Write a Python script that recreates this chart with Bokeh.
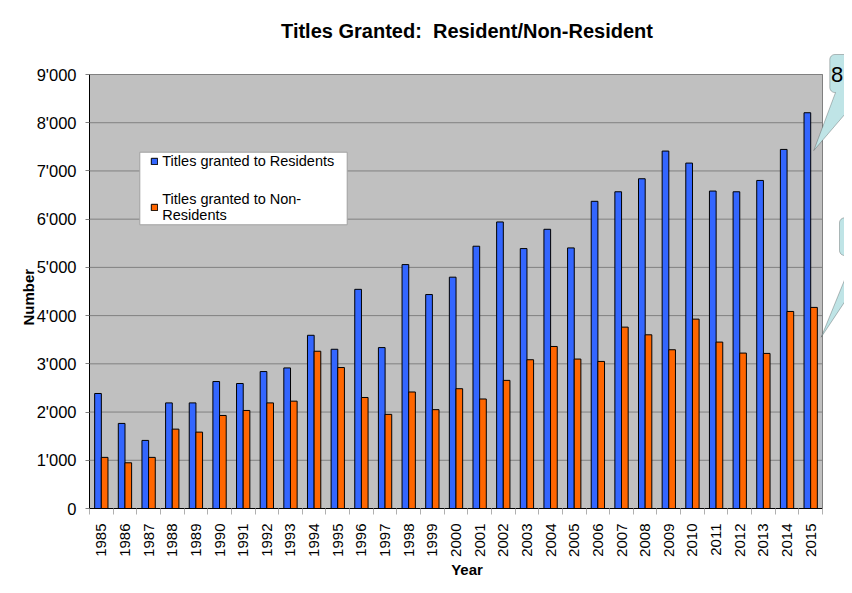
import numpy as np
from bokeh.plotting import figure
from bokeh.models import (Range1d, FixedTicker, Legend, LegendItem,
                          PolyAnnotation, Label, Title)
from bokeh.embed import file_html
from bokeh.resources import INLINE

# ---------------- data ----------------
years = [1985, 1986, 1987, 1988, 1989, 1990, 1991, 1992, 1993, 1994,
         1995, 1996, 1997, 1998, 1999, 2000, 2001, 2002, 2003, 2004,
         2005, 2006, 2007, 2008, 2009, 2010, 2011, 2012, 2013, 2014, 2015]
residents = [2385, 1764, 1412, 2190, 2190, 2633, 2592, 2840, 2915, 3592,
             3302, 4545, 3337, 5058, 4437, 4797, 5439, 5942, 5390, 5790,
             5404, 6370, 6568, 6838, 7412, 7163, 6583, 6568, 6803, 7446, 8207]
non_residents = [1060, 948, 1060, 1646, 1584, 1929, 2033, 2190, 2226, 3261,
                 2923, 2302, 1952, 2416, 2050, 2484, 2271, 2657, 3085, 3360,
                 3099, 3050, 3761, 3602, 3292, 3927, 3451, 3223, 3216, 4086, 4170]
y_ticks = [0, 1000, 2000, 3000, 4000, 5000, 6000, 7000, 8000, 9000]
y_tick_labels = ["0", "1'000", "2'000", "3'000", "4'000", "5'000",
                 "6'000", "7'000", "8'000", "9'000"]
series_labels = ["Titles granted to Residents", "Titles granted to Non-\nResidents"]
title_text = "Titles Granted:\u00a0 Resident/Non-Resident"
y_label = "Number"
x_label = "Year"
callout_text = "8"

FONT = "Liberation Sans"
W, H = 844, 585
# plot-area (grey box) in canvas pixels
PL, PR, PT, PB = 89, 822, 74, 508
# frame extended to the right and upwards so the callouts can be drawn
FT = 50
n = len(years)
y_max = y_ticks[-1]
ppx = (PR - PL) / n          # pixels per category
ppy = (PB - PT) / y_max      # pixels per unit

x_end = -0.5 + (W - PL) / ppx
y_end = (PB - FT) / ppy

p = figure(width=W, height=H, x_range=Range1d(-0.5, x_end), y_range=Range1d(0, y_end),
           output_backend="svg", toolbar_location=None,
           min_border_left=PL, min_border_right=0, min_border_top=FT,
           min_border_bottom=H - PB,
           background_fill_color="white", border_fill_color="white")
p.outline_line_color = None

def fx2d(fx):
    return (fx - PL) / ppx - 0.5

def fy2d(fy):
    return (PB - fy) / ppy

# grey plot area with outline
p.quad(left=-0.5, right=n - 0.5, bottom=0, top=y_max,
       fill_color="#c0c0c0", line_color="#808080", line_width=1)
# horizontal grid lines
p.segment(x0=[-0.5] * len(y_ticks), x1=[n - 0.5] * len(y_ticks),
          y0=y_ticks, y1=y_ticks, line_color="#808080", line_width=1)

idx = np.arange(n)
bw = 0.283
r1 = p.vbar(x=idx - 0.14, top=residents, width=bw, fill_color="#3366ff",
            line_color="black", line_width=1)
r2 = p.vbar(x=idx + 0.14, top=non_residents, width=bw, fill_color="#ff6600",
            line_color="black", line_width=1)

# legend box
p.quad(left=fx2d(139.3), right=fx2d(346.7), top=fy2d(151.7), bottom=fy2d(224.3),
       fill_color="white", line_color="#a0a0a0", line_width=1)

# title
p.title.text = title_text
p.title.text_font = FONT
p.title.text_font_size = "20px"
p.title.text_font_style = "bold"
p.title.text_color = "black"
p.title.align = "center"
p.title.offset = 1
p.title.standoff = 17

p.xgrid.grid_line_color = None
p.ygrid.grid_line_color = None

# y axis
ya = p.yaxis[0]
ya.ticker = FixedTicker(ticks=y_ticks)
ya.bounds = (0, y_max)
ya.major_label_overrides = {v: s for v, s in zip(y_ticks, y_tick_labels)}
ya.major_label_text_font = FONT
ya.major_label_text_font_size = "16.5px"
ya.major_label_text_color = "black"
ya.major_label_standoff = 9
ya.major_tick_out = 4
ya.major_tick_in = 0
ya.major_tick_line_color = "#808080"
ya.minor_tick_line_color = None
ya.axis_line_color = "black"

# y axis title
ytitle = Title(text=y_label, align="left", offset=183, standoff=-6,
               text_font=FONT, text_font_size="15px", text_font_style="bold",
               text_color="black")
p.add_layout(ytitle, "left")

# x axis
xa = p.xaxis[0]
xa.ticker = FixedTicker(ticks=list(idx), minor_ticks=list(np.arange(n + 1) - 0.5))
xa.bounds = (-0.5, n - 0.5)
xa.major_label_overrides = {int(i): str(y) for i, y in zip(idx, years)}
xa.major_label_orientation = np.pi / 2
xa.major_label_text_font = FONT
xa.major_label_text_font_size = "15px"
xa.major_label_text_color = "black"
xa.major_tick_out = 0
xa.major_tick_in = 0
xa.minor_tick_out = 6
xa.minor_tick_in = 0
xa.minor_tick_line_color = "#b0b0b0"
xa.major_label_standoff = 9
xa.axis_line_color = "black"
xa.axis_label = x_label
xa.axis_label_text_font = FONT
xa.axis_label_text_font_size = "15px"
xa.axis_label_text_font_style = "bold"
xa.axis_label_text_color = "black"
xa.axis_label_standoff = 1

# legend (box drawn above as a quad)
legend = Legend(items=[LegendItem(label=series_labels[0], renderers=[r1]),
                       LegendItem(label=series_labels[1], renderers=[r2])],
                location=(150.3 - PL, 285), orientation="vertical",
                border_line_color=None, background_fill_alpha=0,
                padding=0, spacing=22, margin=0,
                glyph_width=8, glyph_height=8, label_standoff=4,
                label_height=8, label_text_font=FONT, label_text_color="black",
                label_text_font_size="14.5px", label_text_line_height=1.15)
p.add_layout(legend)

# callouts
def callout(L, T, B, R, tbl, tbr, tip, r=5):
    pts = [(L, B - r)]
    for a in np.linspace(np.pi, 1.5 * np.pi, 7):
        pts.append((L + r + r * np.cos(a), T + r + r * np.sin(a)))
    pts += [(R, T), (R, B), (tbr, B), tip, (tbl, B)]
    for a in np.linspace(0.5 * np.pi, np.pi, 7):
        pts.append((L + r + r * np.cos(a), B - r + r * np.sin(a)))
    xs = [fx2d(x) for x, _ in pts]
    ys = [fy2d(y) for _, y in pts]
    return PolyAnnotation(xs=xs, ys=ys, fill_color="#bfe4e6", fill_alpha=1,
                          line_color="#303030", line_width=1)

p.add_layout(callout(829.3, 54, 92, 960, 835, 863, (813.3, 150)))
p.add_layout(callout(839, 217.3, 255, 960, 854, 875, (820.7, 336.7)))
p.add_layout(Label(x=fx2d(830.5), y=fy2d(73.5), text=callout_text,
                   text_font=FONT, text_font_size="22px", text_color="black",
                   text_baseline="middle", text_align="left"))

open("out.html", "w").write(file_html(p, INLINE))
